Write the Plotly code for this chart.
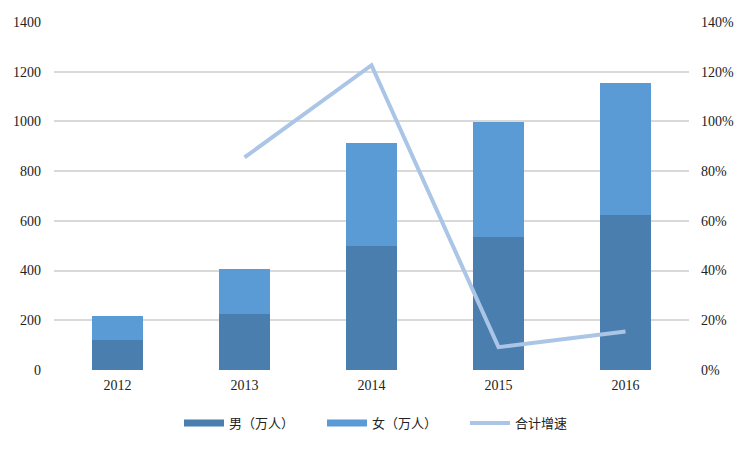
import plotly.graph_objects as go

years = ["2012", "2013", "2014", "2015", "2016"]
male = [121, 227, 500, 534, 625]
female = [97, 180, 415, 464, 529]
growth = [None, 0.855, 1.226, 0.092, 0.155]

c_male = "#4A7EAF"
c_female = "#5B9BD5"
c_line = "#AAC5E6"

fig = go.Figure()
fig.add_trace(go.Bar(x=years, y=male, name="男（万人）", showlegend=False,
                     marker=dict(color=c_male, line=dict(width=0))))
fig.add_trace(go.Bar(x=years, y=female, name="女（万人）", showlegend=False,
                     marker=dict(color=c_female, line=dict(width=0))))
fig.add_trace(go.Scatter(x=years, y=growth, name="合计增速", mode="lines", showlegend=False,
                         line=dict(color=c_line, width=4), yaxis="y2", connectgaps=False))
# legend entries (wide swatches like the reference)
fig.add_trace(go.Scatter(x=[None], y=[None], name="男（万人）", mode="lines",
                         line=dict(color=c_male, width=7)))
fig.add_trace(go.Scatter(x=[None], y=[None], name="女（万人）", mode="lines",
                         line=dict(color=c_female, width=7)))
fig.add_trace(go.Scatter(x=[None], y=[None], name="合计增速", mode="lines",
                         line=dict(color=c_line, width=4), yaxis="y2"))

W, H = 742, 442  # page body has an 8px margin
tickfont = dict(family="Liberation Serif", size=14, color="#222")
fig.update_layout(
    width=W, height=H,
    barmode="stack", bargap=0.6,
    plot_bgcolor="white", paper_bgcolor="white",
    margin=dict(l=46, r=61, t=14, b=80, autoexpand=False),
    xaxis=dict(type="category", tickfont=tickfont, showgrid=False, showline=False, ticks="",
               automargin=False, ticklabelstandoff=5),
    yaxis=dict(range=[0, 1400], tickvals=[0, 200, 400, 600, 800, 1000, 1200, 1400],
               tickfont=tickfont, gridcolor="#D9D9D9", gridwidth=1.5,
               zeroline=False, showline=False, ticks="", automargin=False, ticklabelstandoff=12),
    yaxis2=dict(range=[0, 1.4], tickvals=[0, 0.2, 0.4, 0.6, 0.8, 1.0, 1.2, 1.4],
                tickformat=".0%", overlaying="y", side="right", showgrid=False,
                tickfont=tickfont, zeroline=False, showline=False, ticks="",
                automargin=False, ticklabelstandoff=11),
    legend=dict(orientation="h", x=(179 - 8) / W, xanchor="left", xref="container",
                y=27 / H, yanchor="middle", yref="container",
                font=dict(family="Noto Sans CJK SC", size=13, color="#222"),
                itemwidth=40, entrywidth=88, entrywidthmode="pixels", traceorder="normal"),
    font=dict(family="Liberation Serif"),
)
fig.write_html("out.html")
